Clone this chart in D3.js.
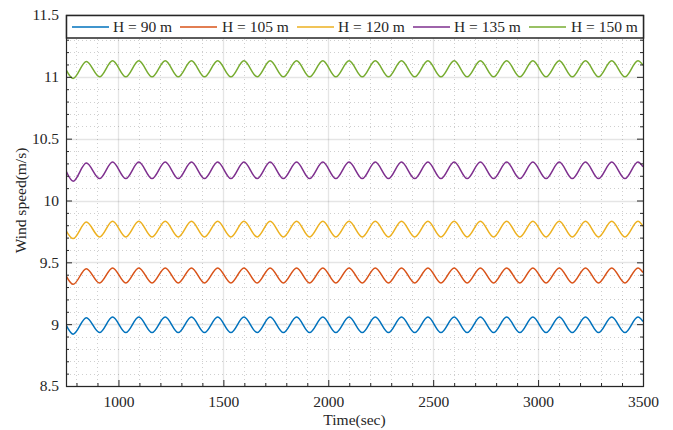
<!DOCTYPE html>
<html>
<head>
<meta charset="utf-8">
<script src="https://cdn.jsdelivr.net/npm/d3@7"></script>
<style>
  html, body { margin: 0; padding: 0; background: #fff; }
  svg { display: block; }
</style>
</head>
<body>
<svg id="chart" width="673" height="430"></svg>
<script>
// Sample times (s): start, alternating trough / crest instants, end
const time = [750, 784, 847, 910, 972, 1035, 1097, 1160, 1223, 1285, 1348, 1410, 1473,
  1536, 1598, 1661, 1723, 1786, 1849, 1911, 1974, 2036, 2099, 2162, 2224, 2287, 2349,
  2412, 2475, 2537, 2600, 2662, 2725, 2788, 2850, 2913, 2975, 3038, 3101, 3163, 3226,
  3288, 3351, 3414, 3476, 3500];

// Wind speed (m/s) at each sample time, one list per hub height
const speed90 = [8.994, 8.919, 9.052,
  8.932, 9.058, 8.932, 9.058, 8.932, 9.058, 8.932, 9.058, 8.932, 9.058, 8.932, 9.058,
  8.932, 9.058, 8.932, 9.058, 8.932, 9.058, 8.932, 9.058, 8.932, 9.058, 8.932, 9.058,
  8.932, 9.058, 8.932, 9.058, 8.932, 9.058, 8.932, 9.058, 8.932, 9.058, 8.932, 9.058,
  8.932, 9.058, 8.932, 9.058, 8.932, 9.058, 9.022];
const speed105 = [9.392, 9.322, 9.449,
  9.333, 9.455, 9.333, 9.455, 9.333, 9.455, 9.333, 9.455, 9.333, 9.455, 9.333, 9.455,
  9.333, 9.455, 9.333, 9.455, 9.333, 9.455, 9.333, 9.455, 9.333, 9.455, 9.333, 9.455,
  9.333, 9.455, 9.333, 9.455, 9.333, 9.455, 9.333, 9.455, 9.333, 9.455, 9.333, 9.455,
  9.333, 9.455, 9.333, 9.455, 9.333, 9.455, 9.418];
const speed120 = [9.757, 9.692, 9.826,
  9.705, 9.832, 9.705, 9.832, 9.705, 9.832, 9.705, 9.832, 9.705, 9.832, 9.705, 9.832,
  9.705, 9.832, 9.705, 9.832, 9.705, 9.832, 9.705, 9.832, 9.705, 9.832, 9.705, 9.832,
  9.705, 9.832, 9.705, 9.832, 9.705, 9.832, 9.705, 9.832, 9.705, 9.832, 9.705, 9.832,
  9.705, 9.832, 9.705, 9.832, 9.705, 9.832, 9.792];
const speed135 = [10.240, 10.156, 10.303,
  10.177, 10.311, 10.177, 10.311, 10.177, 10.311, 10.177, 10.311, 10.177, 10.311, 10.177, 10.311,
  10.177, 10.311, 10.177, 10.311, 10.177, 10.311, 10.177, 10.311, 10.177, 10.311, 10.177, 10.311,
  10.177, 10.311, 10.177, 10.311, 10.177, 10.311, 10.177, 10.311, 10.177, 10.311, 10.177, 10.311,
  10.177, 10.311, 10.177, 10.311, 10.177, 10.311, 10.272];
const speed150 = [11.058, 10.987, 11.124,
  11.000, 11.130, 11.000, 11.130, 11.000, 11.130, 11.000, 11.130, 11.000, 11.130, 11.000, 11.130,
  11.000, 11.130, 11.000, 11.130, 11.000, 11.130, 11.000, 11.130, 11.000, 11.130, 11.000, 11.130,
  11.000, 11.130, 11.000, 11.130, 11.000, 11.130, 11.000, 11.130, 11.000, 11.130, 11.000, 11.130,
  11.000, 11.130, 11.000, 11.130, 11.000, 11.130, 11.095];

const seriesNames = ["H = 90 m", "H = 105 m", "H = 120 m", "H = 135 m", "H = 150 m"];
const seriesValues = [speed90, speed105, speed120, speed135, speed150];
const seriesColors = ["#0072BD", "#D95319", "#EDB120", "#7E2F8E", "#77AC30"];

const xTicks = [1000, 1500, 2000, 2500, 3000, 3500];
const yTicks = [8.5, 9, 9.5, 10, 10.5, 11, 11.5];
const xDomain = [750, 3500];
const yDomain = [8.5, 11.5];

const FONT = "'Liberation Serif', 'Times New Roman', serif";
const FONT_SIZE = "15.5px";
const INK = "#262626";

const svg = d3.select("#chart");
const L = 66, R = 643, T = 15, B = 386;

const x = d3.scaleLinear().domain(xDomain).range([L, R]);
const y = d3.scaleLinear().domain(yDomain).range([B, T]);

// minor positions between the labelled ticks
const xMinor = d3.range(800, 3500, 100).filter(v => v % 500 !== 0);
const yMinor = d3.range(86, 115, 1).map(v => v / 10).filter(v => Math.round(v * 10) % 5 !== 0);

// grid
const grid = svg.append("g");
grid.selectAll(".gxm").data(xMinor).join("line")
  .attr("x1", d => Math.round(x(d)) + 0.5).attr("x2", d => Math.round(x(d)) + 0.5)
  .attr("y1", T).attr("y2", B)
  .attr("stroke", INK).attr("stroke-opacity", 0.22)
  .attr("stroke-dasharray", "1,3");
grid.selectAll(".gym").data(yMinor).join("line")
  .attr("y1", d => Math.round(y(d)) + 0.5).attr("y2", d => Math.round(y(d)) + 0.5)
  .attr("x1", L).attr("x2", R)
  .attr("stroke", INK).attr("stroke-opacity", 0.22)
  .attr("stroke-dasharray", "1,3");
grid.selectAll(".gx").data(xTicks).join("line")
  .attr("x1", d => Math.round(x(d)) + 0.5).attr("x2", d => Math.round(x(d)) + 0.5)
  .attr("y1", T).attr("y2", B)
  .attr("stroke", INK).attr("stroke-opacity", 0.12).attr("stroke-width", 1.3);
grid.selectAll(".gy").data(yTicks).join("line")
  .attr("y1", d => Math.round(y(d)) + 0.5).attr("y2", d => Math.round(y(d)) + 0.5)
  .attr("x1", L).attr("x2", R)
  .attr("stroke", INK).attr("stroke-opacity", 0.12).attr("stroke-width", 1.3);

// series
svg.append("clipPath").attr("id", "plot-clip")
  .append("rect").attr("x", L).attr("y", T).attr("width", R - L).attr("height", B - T);

const line = d3.line()
  .x((d, i) => x(time[i]))
  .y(d => y(d))
  .curve(d3.curveMonotoneX);

svg.append("g").attr("clip-path", "url(#plot-clip)")
  .selectAll("path").data(seriesValues).join("path")
  .attr("d", d => line(d))
  .attr("fill", "none")
  .attr("stroke", (d, i) => seriesColors[i])
  .attr("stroke-width", 1.5)
  .attr("stroke-linejoin", "round");

// axes: major ticks inward with labels on bottom / left, ticks only on right
function styleAxis(g) {
  g.select(".domain").remove();
  g.selectAll("line").attr("stroke", INK).attr("stroke-width", 1);
  g.selectAll("text")
    .style("font-family", FONT)
    .style("font-size", FONT_SIZE)
    .attr("fill", INK);
}
svg.append("g").attr("transform", `translate(0,${B})`)
  .call(d3.axisBottom(x).tickValues(xTicks).tickSize(-6).tickPadding(10).tickFormat(d3.format("d")))
  .call(styleAxis);
svg.append("g").attr("transform", `translate(${L},0)`)
  .call(d3.axisLeft(y).tickValues(yTicks).tickSize(-6).tickPadding(7).tickFormat(d => String(d)))
  .call(styleAxis);
svg.append("g").attr("transform", `translate(${R},0)`)
  .call(d3.axisRight(y).tickValues(yTicks).tickSize(-6).tickFormat(""))
  .call(styleAxis);
svg.append("g").attr("transform", `translate(0,${B})`)
  .call(d3.axisBottom(x).tickValues(xMinor).tickSize(-3).tickFormat(""))
  .call(styleAxis);
svg.append("g").attr("transform", `translate(${L},0)`)
  .call(d3.axisLeft(y).tickValues(yMinor).tickSize(-3).tickFormat(""))
  .call(styleAxis);
svg.append("g").attr("transform", `translate(${R},0)`)
  .call(d3.axisRight(y).tickValues(yMinor).tickSize(-3).tickFormat(""))
  .call(styleAxis);

// plot box
svg.append("rect")
  .attr("x", L + 0.5).attr("y", T + 0.5)
  .attr("width", R - L).attr("height", B - T)
  .attr("fill", "none").attr("stroke", INK).attr("stroke-width", 1.2);

// axis titles
svg.append("text")
  .attr("x", (L + R) / 2).attr("y", 425)
  .attr("text-anchor", "middle")
  .style("font-family", FONT).style("font-size", FONT_SIZE).attr("fill", INK)
  .text("Time(sec)");
svg.append("text")
  .attr("transform", `translate(26,${(T + B) / 2}) rotate(-90)`)
  .attr("text-anchor", "middle")
  .style("font-family", FONT).style("font-size", FONT_SIZE).attr("fill", INK)
  .text("Wind speed(m/s)");

// legend across the top of the plot
const legend = svg.append("g");
legend.append("rect")
  .attr("x", L + 0.5).attr("y", T + 0.5)
  .attr("width", R - L).attr("height", 22.5)
  .attr("fill", "#fff").attr("stroke", INK).attr("stroke-width", 1.5);
const lineStarts = [72, 180, 297, 413, 529];
const textStarts = [113, 222, 338, 454, 571];
const items = legend.selectAll("g.item").data(seriesNames).join("g").attr("class", "item");
items.append("line")
  .attr("x1", (d, i) => lineStarts[i]).attr("x2", (d, i) => lineStarts[i] + 37)
  .attr("y1", 27).attr("y2", 27)
  .attr("stroke", (d, i) => seriesColors[i]).attr("stroke-width", 1.5);
items.append("text")
  .attr("x", (d, i) => textStarts[i]).attr("y", 32)
  .style("font-family", FONT).style("font-size", FONT_SIZE).attr("fill", INK)
  .text(d => d);
</script>
</body>
</html>
